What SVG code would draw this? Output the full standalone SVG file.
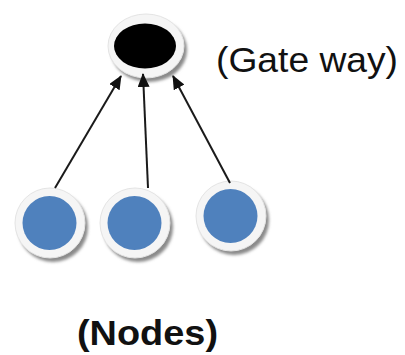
<svg xmlns="http://www.w3.org/2000/svg" width="405" height="355" viewBox="0 0 405 355">
<defs>
<style>
.shadow{fill:#8a8a8a;filter:url(#blur)}
.ring{fill:#f5f5f5;stroke:#e4e4e4;stroke-width:1}
.blue{fill:#4f81bd}
.conn{stroke:#1a1a1a;stroke-width:2;fill:none;marker-end:url(#ah)}
.lbl{font-family:"Liberation Sans",Arial,sans-serif;fill:#111}
</style>
<filter id="blur" x="-20%" y="-20%" width="140%" height="140%"><feGaussianBlur stdDeviation="1.5"/></filter>
<marker id="ah" viewBox="0 0 14 12" refX="13" refY="6" markerWidth="14" markerHeight="12" markerUnits="userSpaceOnUse" orient="auto">
<path d="M0,0 L14,6 L0,12 z" fill="#111"/>
</marker>
</defs>
<g id="gateway">
<ellipse class="shadow" cx="149" cy="50" rx="38" ry="32"/>
<ellipse class="ring" cx="146" cy="46" rx="38" ry="32"/>
<ellipse cx="145" cy="46" rx="31" ry="22.5" fill="#000"/>
</g>
<g id="node1">
<circle class="shadow" cx="53" cy="227" r="35"/>
<circle class="ring" cx="50" cy="223" r="35"/>
<circle class="blue" cx="49.5" cy="223" r="27"/>
</g>
<g id="node2">
<circle class="shadow" cx="138" cy="227" r="35"/>
<circle class="ring" cx="135" cy="223" r="35"/>
<circle class="blue" cx="134.5" cy="223" r="27"/>
</g>
<g id="node3">
<circle class="shadow" cx="234" cy="220" r="35"/>
<circle class="ring" cx="231" cy="216" r="35"/>
<circle class="blue" cx="230.5" cy="216" r="27"/>
</g>
<g id="connectors">
<line class="conn" x1="55" y1="188" x2="121" y2="76"/>
<line class="conn" x1="148" y1="188" x2="143" y2="74"/>
<line class="conn" x1="230" y1="183" x2="173" y2="76"/>
</g>
<text class="lbl" x="216" y="72" font-size="35" textLength="182" lengthAdjust="spacingAndGlyphs">(Gate way)</text>
<text class="lbl" x="77" y="345" font-size="35" font-weight="bold" textLength="141" lengthAdjust="spacingAndGlyphs">(Nodes)</text>
</svg>
